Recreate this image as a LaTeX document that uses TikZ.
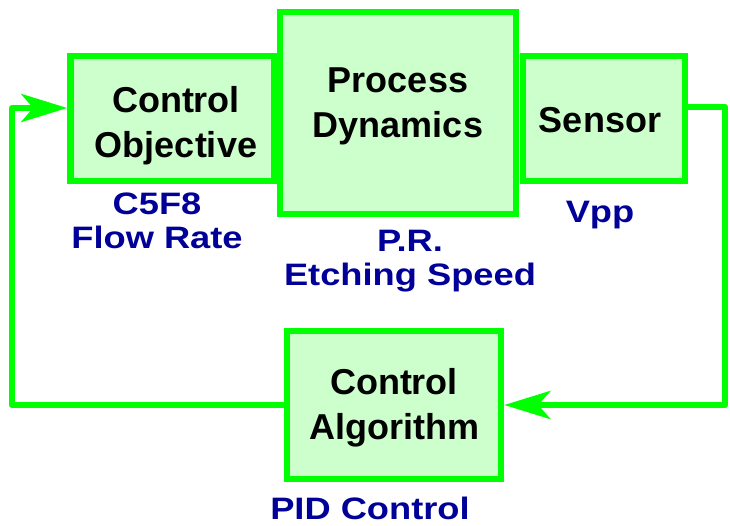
\documentclass[tikz,border=0pt]{standalone}
\usepackage{fontspec}
\setmainfont{Liberation Sans}
\newfontfamily\widesans[FakeStretch=1.17]{Liberation Sans}
\usetikzlibrary{arrows.meta}
\definecolor{boxgreen}{HTML}{00FF00}
\definecolor{boxfill}{HTML}{CCFFCC}
\definecolor{labblue}{HTML}{000099}
\begin{document}
\begin{tikzpicture}[x=1pt,y=-1pt,
  blockbox/.style={draw=boxgreen,fill=boxfill,line width=6.5pt,inner sep=0pt},
  blocktext/.style={font=\fontsize{36}{45}\selectfont\bfseries,align=center,text=black},
  labtext/.style={font=\widesans\fontsize{31}{34}\selectfont\bfseries,align=center,text=labblue},
  fb/.style={draw=boxgreen,line width=6.5pt,line join=round},
  fbarrow/.style={-{Stealth[length=46pt,width=28pt,inset=12pt]}}]
\useasboundingbox (0,0) rectangle (730,526);
% boxes
\node[blockbox,minimum width=204pt,minimum height=125pt] (co) at (172.5,118.5) {};
\node[blockbox,minimum width=162pt,minimum height=125pt] (sensor) at (604,118.5) {};
\node[blockbox,minimum width=236pt,minimum height=202pt] (pd) at (398,113) {};
\node[blockbox,minimum width=214pt,minimum height=148pt] (algo) at (394,405) {};
% texts
\node[blocktext] (tco) at (176,126) {Control\\Objective};
\node[blocktext] (tpd) at (398,106) {Process\\Dynamics};
\node[blocktext] (tsen) at (600,120) {Sensor};
\node[blocktext] (tal) at (394,408) {Control\\Algorithm};
% labels
\node[labtext] (lco) at (157,221) {C5F8\\Flow Rate};
\node[labtext] (lpd) at (410,261) {P.R.\\Etching Speed};
\node[labtext] (lsen) at (600,215) {Vpp};
\node[labtext] (lal) at (370,508) {PID Control};
% connectors
\coordinate (fbR) at (725,107);
\coordinate (fbL) at (12,108);
\draw[fb,fbarrow] (sensor.east |- fbR) -- (fbR) |- (algo.east);
\draw[fb,fbarrow] (algo.west) -| (fbL) -- (co.west |- fbL);
\end{tikzpicture}
\end{document}
